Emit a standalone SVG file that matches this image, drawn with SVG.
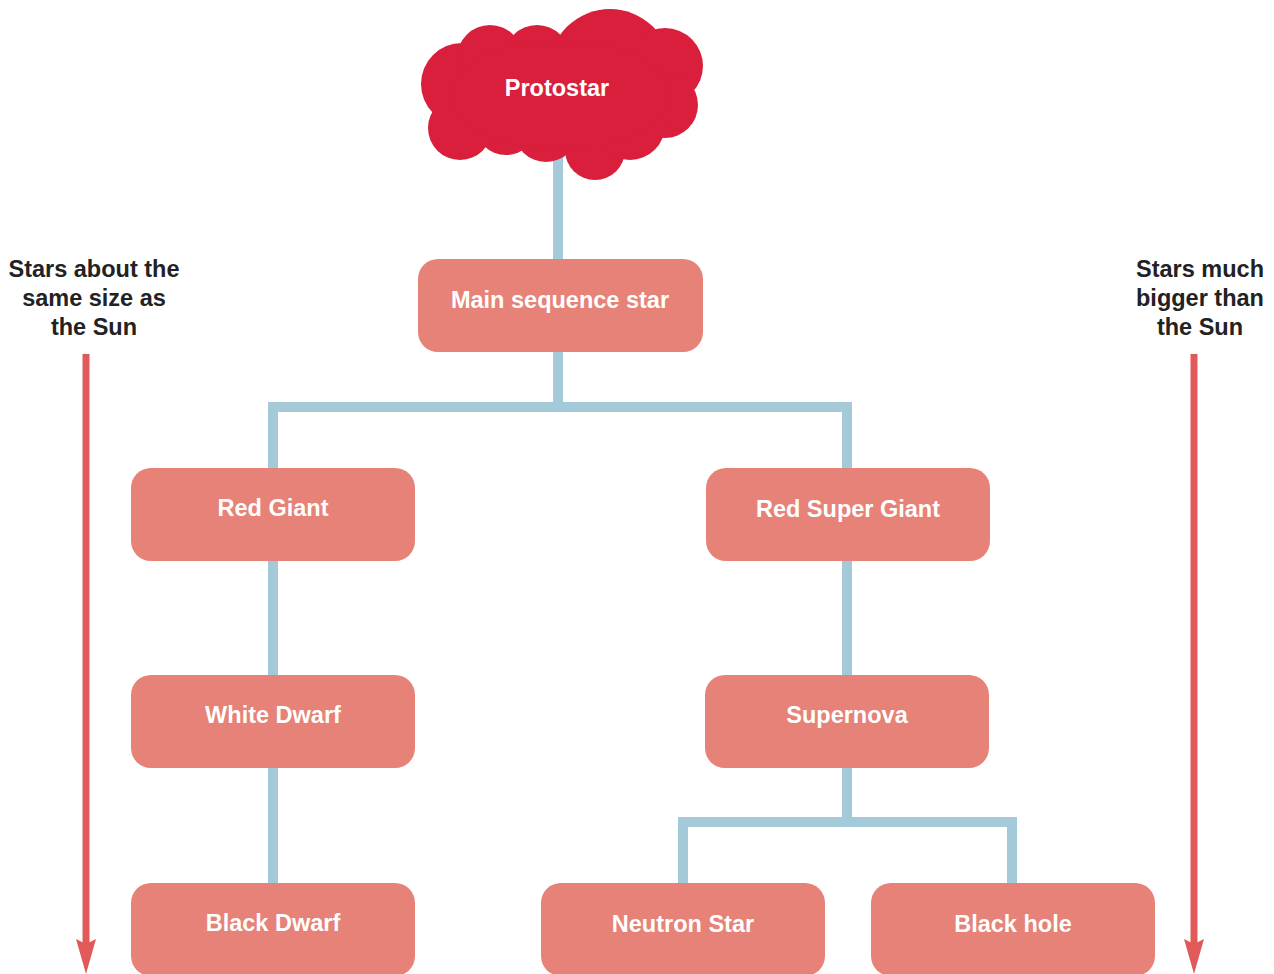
<svg xmlns="http://www.w3.org/2000/svg" width="1274" height="974" viewBox="0 0 1274 974">
<defs>
<style>
.box{fill:#e68277;}
.lbl{font-family:"Liberation Sans",Arial,sans-serif;font-weight:bold;font-size:23.5px;fill:#ffffff;text-anchor:middle;}
.side{font-family:"Liberation Sans",Arial,sans-serif;font-weight:bold;font-size:23.5px;fill:#222222;text-anchor:middle;}
.conn{stroke:#a4c9d8;stroke-width:10;fill:none;stroke-linecap:butt;stroke-linejoin:miter;}
.arr{stroke:#e05a59;stroke-width:7;fill:none;}
.head{fill:#e05a59;}
.cloud{fill:#d91f3c;}
</style>
</defs>
<rect width="1274" height="974" fill="#ffffff"/>
<g id="connectors">
<path class="conn" d="M558,150 V260"/>
<path class="conn" d="M558,350 V407 M273,470 V407 H847 V470"/>
<path class="conn" d="M273,560 V676"/>
<path class="conn" d="M273,767 V884"/>
<path class="conn" d="M847,560 V676"/>
<path class="conn" d="M847,767 V822 M683,884 V822 H1012 V884"/>
</g>
<g id="protostar">
<g class="cloud">
<circle cx="462" cy="84" r="41"/>
<circle cx="490" cy="58" r="33"/>
<circle cx="537" cy="58" r="33"/>
<circle cx="610" cy="70" r="61"/>
<circle cx="665" cy="66" r="38"/>
<circle cx="665" cy="105" r="33"/>
<circle cx="460" cy="128" r="32"/>
<circle cx="506" cy="124" r="31"/>
<circle cx="546" cy="130" r="32"/>
<circle cx="595" cy="150" r="30"/>
<circle cx="630" cy="125" r="35"/>
<ellipse cx="560" cy="95" rx="110" ry="55"/>
</g>
<text class="lbl" x="557" y="96">Protostar</text>
</g>
<g id="main-sequence">
<rect class="box" x="418" y="259" width="285" height="93" rx="20"/>
<text class="lbl" x="560" y="308">Main sequence star</text>
</g>
<g id="red-giant">
<rect class="box" x="131" y="468" width="284" height="93" rx="20"/>
<text class="lbl" x="273" y="516">Red Giant</text>
</g>
<g id="red-super-giant">
<rect class="box" x="706" y="468" width="284" height="93" rx="20"/>
<text class="lbl" x="848" y="517">Red Super Giant</text>
</g>
<g id="white-dwarf">
<rect class="box" x="131" y="675" width="284" height="93" rx="20"/>
<text class="lbl" x="273" y="723">White Dwarf</text>
</g>
<g id="supernova">
<rect class="box" x="705" y="675" width="284" height="93" rx="20"/>
<text class="lbl" x="847" y="723">Supernova</text>
</g>
<g id="black-dwarf">
<rect class="box" x="131" y="883" width="284" height="93" rx="20"/>
<text class="lbl" x="273" y="931">Black Dwarf</text>
</g>
<g id="neutron-star">
<rect class="box" x="541" y="883" width="284" height="93" rx="20"/>
<text class="lbl" x="683" y="932">Neutron Star</text>
</g>
<g id="black-hole">
<rect class="box" x="871" y="883" width="284" height="93" rx="20"/>
<text class="lbl" x="1013" y="932">Black hole</text>
</g>
<g id="small-stars">
<text class="side" x="94" y="277">Stars about the</text>
<text class="side" x="94" y="306">same size as</text>
<text class="side" x="94" y="335">the Sun</text>
<path class="arr" d="M86,354 V945"/>
<polygon class="head" points="76,939 86,944 96,939 86,974"/>
</g>
<g id="big-stars">
<text class="side" x="1200" y="277">Stars much</text>
<text class="side" x="1200" y="306">bigger than</text>
<text class="side" x="1200" y="335">the Sun</text>
<path class="arr" d="M1194,354 V945"/>
<polygon class="head" points="1184,939 1194,944 1204,939 1194,974"/>
</g>
</svg>
